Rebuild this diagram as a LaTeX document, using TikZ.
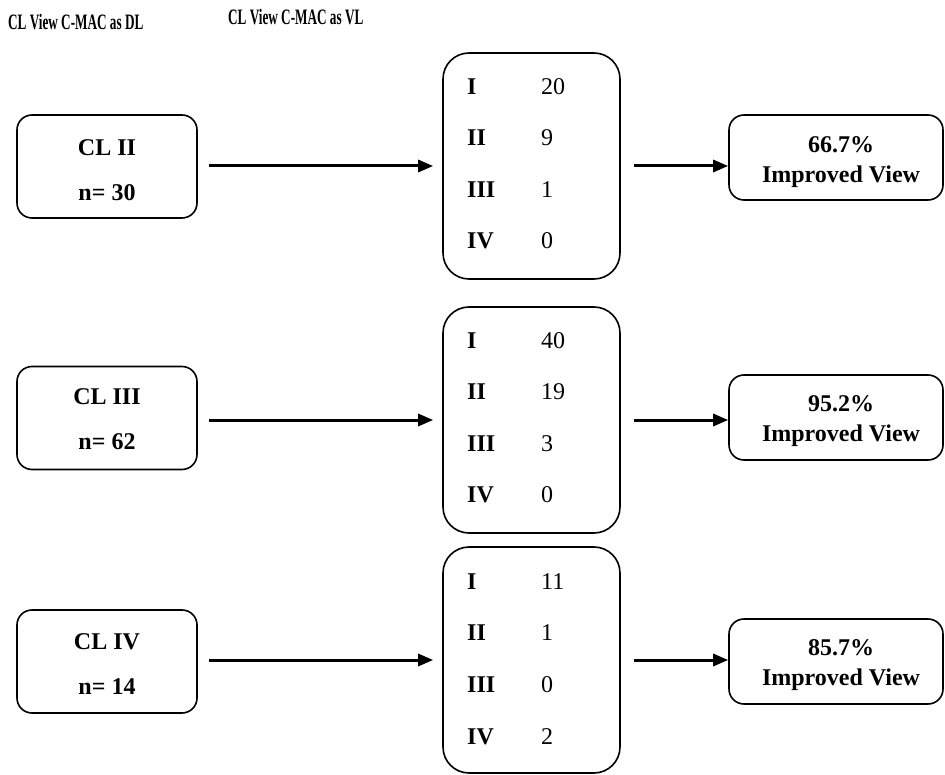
\documentclass[tikz,border=0pt]{standalone}
\usepackage{fontspec}
\usepackage{graphicx}
\setmainfont{Liberation Serif}
\usetikzlibrary{arrows.meta}
\tikzset{
  lbox/.style={draw, line width=1.6pt, rounded corners=15pt, minimum width=180pt, minimum height=103pt, inner sep=0pt},
  mbox/.style={draw, line width=1.6pt, rounded corners=26pt, minimum width=177pt, minimum height=226pt, inner sep=0pt},
  rbox/.style={draw, line width=1.6pt, rounded corners=15pt, minimum width=214pt, minimum height=85pt, inner sep=0pt},
  btxt/.style={font=\fontsize{24}{28}\selectfont\bfseries, inner sep=0pt},
  ntxt/.style={font=\fontsize{24}{28}\selectfont, inner sep=0pt, anchor=west},
  rtxt/.style={font=\fontsize{24}{28}\selectfont\bfseries, inner sep=0pt, anchor=west},
  ttl/.style={font=\fontsize{22}{26}\selectfont\bfseries, inner sep=0pt, anchor=west},
  arr/.style={line width=3pt, -{Triangle[length=15pt,width=12pt]}},
}
\begin{document}
\begin{tikzpicture}[x=1pt,y=-1pt]
\useasboundingbox (0,0) rectangle (945,775);
% titles
\node[ttl] (t1) at (8,22) {\scalebox{0.6}[1]{CL View C-MAC as DL}};
\node[ttl] (t2) at (228,17) {\scalebox{0.6}[1]{CL View C-MAC as VL}};

% row 1
\node[lbox] (l1) at (107,166.5) {};
\node[btxt] (l1a) at (107,148) {CL II};
\node[btxt] (l1b) at (107,193) {n= 30};
\node[mbox] (m1) at (531.5,166) {};
\node[rtxt] (m1r1) at (467,87) {I};
\node[ntxt] (m1n1) at (541,87) {20};
\node[rtxt] (m1r2) at (467,138) {II};
\node[ntxt] (m1n2) at (541,138) {9};
\node[rtxt] (m1r3) at (467,190) {III};
\node[ntxt] (m1n3) at (541,190) {1};
\node[rtxt] (m1r4) at (467,241) {IV};
\node[ntxt] (m1n4) at (541,241) {0};
\node[rbox] (r1) at (836,157.5) {};
\node[btxt] (r1a) at (841,145) {66.7\%};
\node[btxt] (r1b) at (841,177) {Improved View};

% row 2
\node[lbox] (l2) at (107,418) {};
\node[btxt] (l2a) at (107,397) {CL III};
\node[btxt] (l2b) at (107,442) {n= 62};
\node[mbox] (m2) at (531.5,420) {};
\node[rtxt] (m2r1) at (467,341) {I};
\node[ntxt] (m2n1) at (541,341) {40};
\node[rtxt] (m2r2) at (467,392) {II};
\node[ntxt] (m2n2) at (541,392) {19};
\node[rtxt] (m2r3) at (467,444) {III};
\node[ntxt] (m2n3) at (541,444) {3};
\node[rtxt] (m2r4) at (467,495) {IV};
\node[ntxt] (m2n4) at (541,495) {0};
\node[rbox] (r2) at (836,417.5) {};
\node[btxt] (r2a) at (841,404) {95.2\%};
\node[btxt] (r2b) at (841,436) {Improved View};

% row 3
\node[lbox] (l3) at (107,661.5) {};
\node[btxt] (l3a) at (107,642) {CL IV};
\node[btxt] (l3b) at (107,687) {n= 14};
\node[mbox] (m3) at (531.5,660) {};
\node[rtxt] (m3r1) at (467,582) {I};
\node[ntxt] (m3n1) at (541,582) {11};
\node[rtxt] (m3r2) at (467,633) {II};
\node[ntxt] (m3n2) at (541,633) {1};
\node[rtxt] (m3r3) at (467,685) {III};
\node[ntxt] (m3n3) at (541,685) {0};
\node[rtxt] (m3r4) at (467,737) {IV};
\node[ntxt] (m3n4) at (541,737) {2};
\node[rbox] (r3) at (836,661.5) {};
\node[btxt] (r3a) at (841,648) {85.7\%};
\node[btxt] (r3b) at (841,680) {Improved View};

% arrows
\draw[arr, shorten <=11pt, shorten >=9pt] (l1.east |- m1.west) -- (m1.west);
\draw[arr, shorten <=13pt] (m1.east) -- (m1.east -| r1.west);
\draw[arr, shorten <=11pt, shorten >=9pt] (l2.east |- m2.west) -- (m2.west);
\draw[arr, shorten <=13pt] (m2.east) -- (m2.east -| r2.west);
\draw[arr, shorten <=11pt, shorten >=9pt] (l3.east |- m3.west) -- (m3.west);
\draw[arr, shorten <=13pt] (m3.east) -- (m3.east -| r3.west);
\end{tikzpicture}
\end{document}
